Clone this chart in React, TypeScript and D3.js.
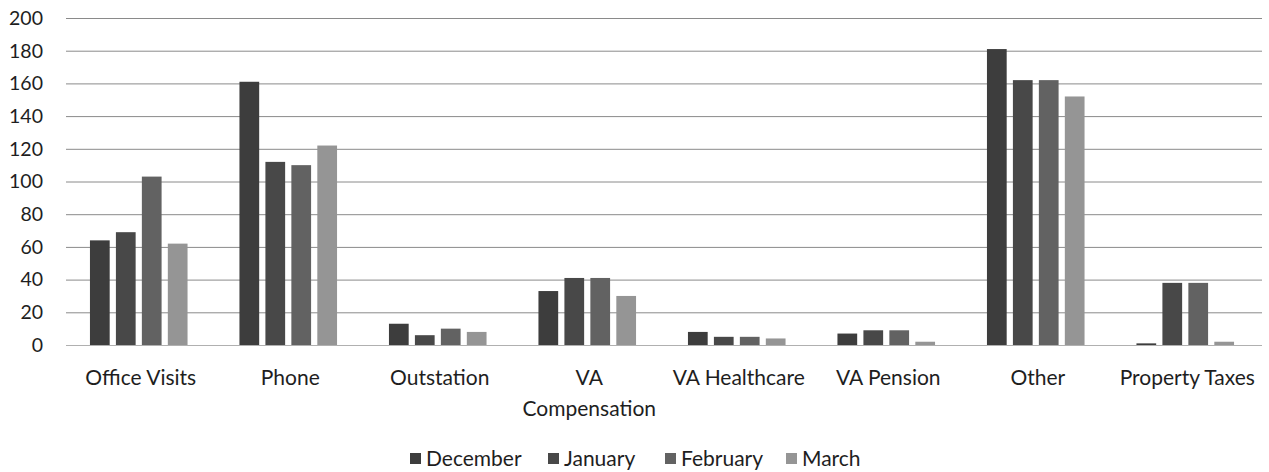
import { useEffect, useRef } from "react"
import * as d3 from "d3"

const categories = ["Office Visits", "Phone", "Outstation", "VA Compensation", "VA Healthcare", "VA Pension", "Other", "Property Taxes"]
const seriesNames = ["December", "January", "February", "March"]
const december = [64, 161, 13, 33, 8, 7, 181, 1]
const january = [69, 112, 6, 41, 5, 9, 162, 38]
const february = [103, 110, 10, 41, 5, 9, 162, 38]
const march = [62, 122, 8, 30, 4, 2, 152, 2]
const yTicks = [0, 20, 40, 60, 80, 100, 120, 140, 160, 180, 200]

const colors = ["#3d3d3d", "#484848", "#626262", "#959595"]

export default function App() {
  const svgRef = useRef(null)

  useEffect(() => {
    if (!svgRef.current) return
    const svg = d3.select(svgRef.current)
    svg.selectAll("*").remove()

    const width = 1269
    const height = 472
    const margin = { top: 18, right: 7, bottom: 127, left: 66 }
    const innerWidth = width - margin.left - margin.right
    const innerHeight = height - margin.top - margin.bottom
    const font = "Lato, 'Open Sans', sans-serif"

    const series = [december, january, february, march]

    const x0 = d3.scaleBand().domain(categories).range([0, innerWidth]).paddingInner(0).paddingOuter(0)
    const x1 = d3.scaleBand().domain(seriesNames).range([-2, x0.bandwidth() - 2]).paddingInner(0.24).paddingOuter(1.0)
    const y = d3.scaleLinear().domain([0, 200]).range([innerHeight, 0])

    const g = svg.append("g").attr("transform", `translate(${margin.left},${margin.top})`)

    // 网格线
    g.selectAll("line.grid")
      .data(yTicks)
      .enter()
      .append("line")
      .attr("x1", 0)
      .attr("x2", innerWidth)
      .attr("y1", (d) => y(d) + 0.5)
      .attr("y2", (d) => y(d) + 0.5)
      .attr("stroke", (d) => (d === 0 ? "#b0b0b0" : "#8a8a8a"))
      .attr("stroke-width", 1)

    // Y轴标签
    g.selectAll("text.ytick")
      .data(yTicks)
      .enter()
      .append("text")
      .attr("x", -23)
      .attr("y", (d) => y(d))
      .attr("dy", "0.35em")
      .attr("text-anchor", "end")
      .attr("font-family", font)
      .attr("font-size", "19.5px")
      .attr("fill", "#1e1e1e")
      .text((d) => d)

    // 柱子
    series.forEach((vals, si) => {
      g.selectAll(`rect.s${si}`)
        .data(vals)
        .enter()
        .append("rect")
        .attr("x", (d, i) => x0(categories[i]) + x1(seriesNames[si]))
        .attr("y", (d) => y(d))
        .attr("width", x1.bandwidth())
        .attr("height", (d) => innerHeight - y(d))
        .attr("fill", colors[si])
    })

    // X轴标签
    const labels = g.selectAll("text.xlab")
      .data(categories)
      .enter()
      .append("text")
      .attr("x", (d) => x0(d) + x0.bandwidth() / 2)
      .attr("y", innerHeight + 40)
      .attr("text-anchor", "middle")
      .attr("font-family", font)
      .attr("font-size", "21px")
      .attr("fill", "#1e1e1e")

    labels.each(function (d) {
      const t = d3.select(this)
      if (d === "VA Compensation") {
        t.append("tspan").attr("x", x0(d) + x0.bandwidth() / 2).text("VA")
        t.append("tspan").attr("x", x0(d) + x0.bandwidth() / 2).attr("dy", 31).text("Compensation")
      } else {
        t.text(d)
      }
    })

    // 图例
    const legendX = [410, 548, 665, 786]
    const legend = svg.append("g").attr("transform", `translate(0, ${height - 6})`)
    seriesNames.forEach((name, i) => {
      legend.append("rect")
        .attr("x", legendX[i])
        .attr("y", -13)
        .attr("width", 11)
        .attr("height", 11)
        .attr("fill", colors[i])
      legend.append("text")
        .attr("x", legendX[i] + 16)
        .attr("y", 0)
        .attr("font-family", font)
        .attr("font-size", "21px")
        .attr("fill", "#1e1e1e")
        .text(name)
    })

    svg
      .attr("width", width)
      .attr("height", height)
      .attr("viewBox", [0, 0, width, height])
  }, [])

  return (
    <div style={{ position: "absolute", left: 0, top: 0 }}>
      <svg ref={svgRef} style={{ display: "block", background: "#fff" }}></svg>
    </div>
  )
}
